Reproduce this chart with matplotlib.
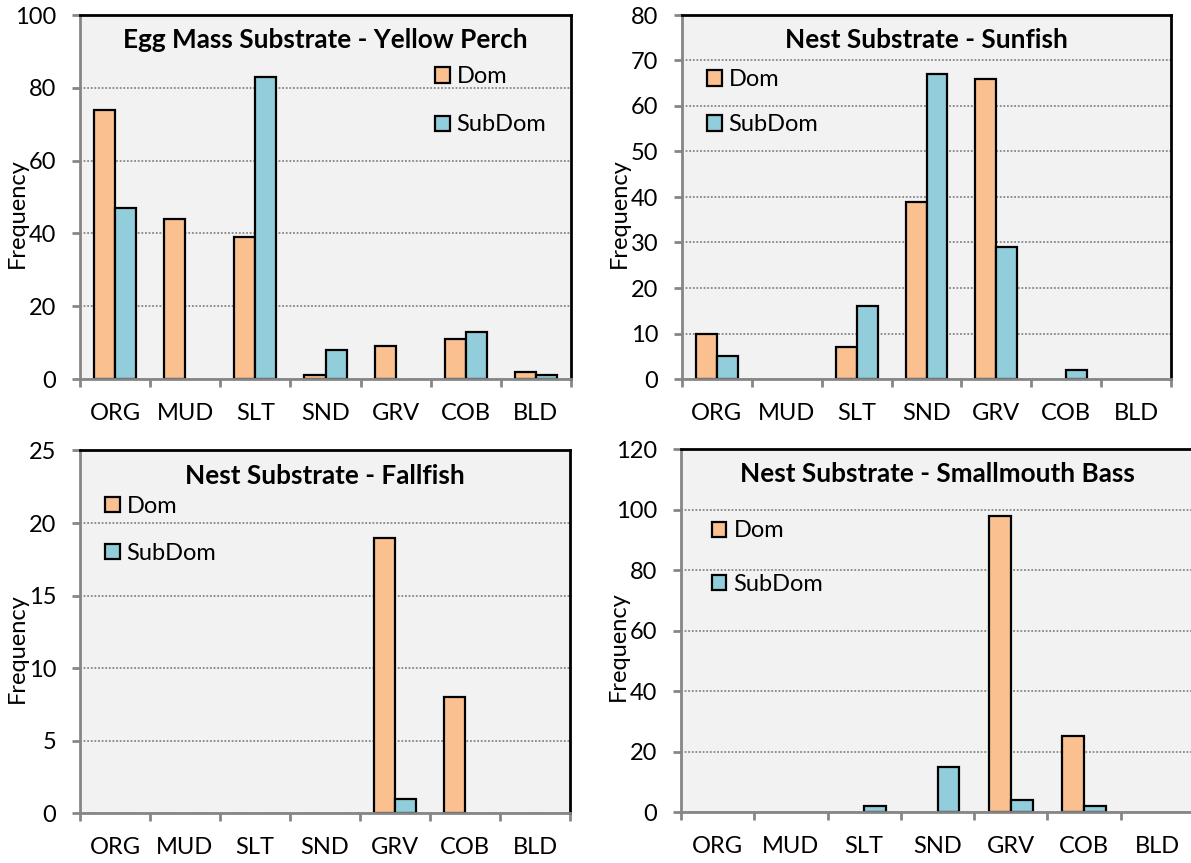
import matplotlib
matplotlib.use("Agg")
import matplotlib.pyplot as plt
from matplotlib.patches import Patch
import numpy as np

plt.rcParams['font.family'] = ['Lato', 'DejaVu Sans']

categories = ["ORG", "MUD", "SLT", "SND", "GRV", "COB", "BLD"]
series_names = ["Dom", "SubDom"]

titles = ["Egg Mass Substrate - Yellow Perch", "Nest Substrate - Sunfish",
          "Nest Substrate - Fallfish", "Nest Substrate - Smallmouth Bass"]

perch_dom = [74, 44, 39, 1, 9, 11, 2]
perch_sub = [47, 0, 83, 8, 0, 13, 1]
sunfish_dom = [10, 0, 7, 39, 66, 0, 0]
sunfish_sub = [5, 0, 16, 67, 29, 2, 0]
fallfish_dom = [0, 0, 0, 0, 19, 8, 0]
fallfish_sub = [0, 0, 0, 0, 1, 0, 0]
bass_dom = [0, 0, 0, 0, 98, 25, 0]
bass_sub = [0, 0, 2, 15, 4, 2, 0]

ymax = [100, 80, 25, 120]
ystep = [20, 10, 5, 20]

dom_color = "#FAC090"
sub_color = "#92CDDC"
bg = "#F2F2F2"
axis_gray = "#868686"

W, H = 1191, 863
fig = plt.figure(figsize=(W / 100, H / 100), dpi=100)

# axes rectangles in pixels: left, top, right, bottom
rects_px = [(80, 15, 571, 379), (682, 15, 1171, 379),
            (80, 450.5, 570, 813), (681, 449, 1194, 812)]
legend_pos = [(0.723, 0.764, 1.15), (0.051, 0.76, 1.02),
              (0.051, 0.781, 1.1), (0.060, 0.701, 1.36)]

data = [(perch_dom, perch_sub), (sunfish_dom, sunfish_sub),
        (fallfish_dom, fallfish_sub), (bass_dom, bass_sub)]

fs = 17
x = np.arange(len(categories))
bw = 0.3

for i, (l, t, r, b) in enumerate(rects_px):
    ax = fig.add_axes([l / W, 1 - b / H, (r - l) / W, (b - t) / H])
    ax.set_facecolor(bg)
    dom, sub = data[i]
    dom = np.array(dom, dtype=float)
    sub = np.array(sub, dtype=float)
    md = dom > 0
    ms = sub > 0
    ax.bar(x[md] - bw / 2, dom[md], width=bw, color=dom_color,
           edgecolor="black", linewidth=1.6, zorder=2)
    ax.bar(x[ms] + bw / 2, sub[ms], width=bw, color=sub_color,
           edgecolor="black", linewidth=1.6, zorder=2)
    ax.set_xlim(-0.5, len(categories) - 0.5)
    ax.set_ylim(0, ymax[i])
    ax.set_yticks(np.arange(0, ymax[i] + 0.1, ystep[i]))
    ax.set_xticks(x)
    ax.set_xticklabels(categories)
    ax.set_xticks(np.arange(-0.5, len(categories), 1.0), minor=True)
    ax.tick_params(axis='x', which='major', length=0, pad=17, labelsize=fs)
    ax.tick_params(axis='x', which='minor', length=6, width=2, color=axis_gray,
                   direction='out')
    ax.tick_params(axis='y', which='major', length=6, width=2, color=axis_gray,
                   pad=11, labelsize=fs)
    ax.yaxis.grid(True, linestyle=(0, (1, 1)), color=axis_gray, linewidth=1.3)
    ax.set_axisbelow(True)
    for s in ['left', 'bottom']:
        ax.spines[s].set_color(axis_gray)
        ax.spines[s].set_linewidth(2)
    for s in ['top', 'right']:
        ax.spines[s].set_color('black')
        ax.spines[s].set_linewidth(2)
    ax.set_ylabel("Frequency", fontsize=fs)
    ax.yaxis.set_label_coords(-0.106 * 491 / (r - l), 0.456)
    ax.text(0.5, 0.931, titles[i], transform=ax.transAxes, ha='center',
            va='center', fontsize=18.8, fontweight='bold')
    lx, ly, ls = legend_pos[i]
    handles = [Patch(facecolor=dom_color, edgecolor='black', linewidth=1.6),
               Patch(facecolor=sub_color, edgecolor='black', linewidth=1.6)]
    ax.legend(handles, series_names, loc='center left', bbox_to_anchor=(lx, ly),
              frameon=False, fontsize=fs, handlelength=0.62, handleheight=0.62,
              handletextpad=0.3, borderpad=0, borderaxespad=0, labelspacing=ls)

fig.savefig("out.png", dpi=100)
